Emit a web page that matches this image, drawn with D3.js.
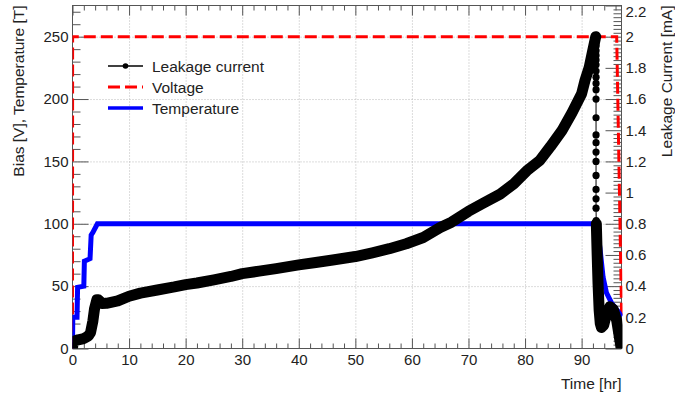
<!DOCTYPE html>
<html>
<head>
<meta charset="utf-8">
<script src="https://cdn.jsdelivr.net/npm/d3@7"></script>
<style>
  body { margin: 0; background: #fff; }
  svg { display: block; }
  text { font-family: "Liberation Sans", Arial, Helvetica, sans-serif; fill: #222; }
</style>
</head>
<body>
<svg id="chart" width="675" height="398"></svg>
<script>
// time [hr] vs leakage current [mA]
var leakRise = [
  [0, 0], [0.1, 0.04], [0.5, 0.05], [1, 0.056], [2, 0.064], [2.8, 0.08], [3.2, 0.104],
  [3.6, 0.176], [3.9, 0.256], [4.3, 0.312], [4.6, 0.312], [5.2, 0.288], [6, 0.29],
  [8, 0.305], [10, 0.335], [12, 0.355], [15, 0.375], [18, 0.395], [20, 0.41],
  [22, 0.42], [25, 0.44], [28, 0.462], [30, 0.48], [33, 0.496], [36, 0.512],
  [40, 0.536], [43, 0.552], [46, 0.568], [50, 0.59], [53, 0.614], [56, 0.64],
  [59, 0.672], [62, 0.712], [65, 0.776], [67, 0.81], [70, 0.88], [72.5, 0.93],
  [75.6, 0.99], [78, 1.056], [80.3, 1.14], [82.6, 1.206], [84.5, 1.296], [86.5, 1.396],
  [88.3, 1.512], [90, 1.634], [90.6, 1.72], [91.35, 1.805], [91.9, 1.9], [92.5, 2.0]
];
var leakDrop = [
  [92.55, 1.97], [92.55, 1.94], [92.55, 1.91], [92.55, 1.88], [92.55, 1.85], [92.55, 1.82],
  [92.55, 1.78], [92.55, 1.74], [92.55, 1.70], [92.55, 1.66], [92.55, 1.60], [92.55, 1.48],
  [92.55, 1.37], [92.55, 1.32], [92.55, 1.26], [92.55, 1.2], [92.55, 1.11], [92.55, 1.02],
  [92.55, 0.96], [92.55, 0.9], [92.58, 0.82]
];
var leakTail = [
  [92.6, 0.8], [92.75, 0.6], [92.9, 0.42], [93.1, 0.245], [93.3, 0.16], [93.5, 0.135],
  [93.9, 0.15], [94.4, 0.22], [95, 0.268], [95.6, 0.25], [96.2, 0.18], [96.75, 0.055],
  [97.03, 0]
];
// time [hr] vs temperature
var tempData = [
  [0, 0], [0.05, 25], [0.8, 25], [0.9, 49], [2, 50], [2.1, 70], [3.1, 72], [3.3, 91],
  [3.6, 93], [4.4, 100], [92.5, 100], [92.65, 99], [93.23, 81], [93.8, 57], [94.4, 44.5],
  [95.3, 36.5], [96.47, 29.5], [97.07, 25.5]
];
// time [hr] vs bias voltage [V]
var voltData = [[0, 0], [0.02, 250], [96.2, 250], [97.07, 27]];

var xTicks = [0, 10, 20, 30, 40, 50, 60, 70, 80, 90];
var yTicks = [0, 50, 100, 150, 200, 250];
var yRTicks = [0, 0.2, 0.4, 0.6, 0.8, 1, 1.2, 1.4, 1.6, 1.8, 2, 2.2];
var legendLabels = ["Leakage current", "Voltage", "Temperature"];

var fLeft = 72.5, fRight = 621.5, fTop = 5.5, fBottom = 348.5;

var x = d3.scaleLinear().domain([0, 97.05]).range([fLeft, fRight]);
var y = d3.scaleLinear().domain([0, 275]).range([fBottom, fTop]);
var yR = d3.scaleLinear().domain([0, 2.2]).range([fBottom, fTop]);

var svg = d3.select("#chart");

svg.append("clipPath").attr("id", "clip")
  .append("rect")
  .attr("x", fLeft).attr("y", fTop - 3)
  .attr("width", fRight - fLeft + 1).attr("height", fBottom - fTop + 3);

// grid
function styleGrid(g) {
  g.select(".domain").remove();
  g.selectAll("line")
    .attr("stroke", "#b8b8b8")
    .attr("stroke-dasharray", "1,2");
}
svg.append("g")
  .attr("transform", "translate(0," + fBottom + ")")
  .call(d3.axisBottom(x).tickValues(xTicks.slice(1)).tickSize(-(fBottom - fTop)).tickFormat(""))
  .call(styleGrid);
svg.append("g")
  .attr("transform", "translate(" + fLeft + ",0)")
  .call(d3.axisLeft(y).tickValues(yTicks.slice(1)).tickSize(-(fRight - fLeft)).tickFormat(""))
  .call(styleGrid);

// minor tick helpers
function minors(lo, hi, step, skip) {
  var out = [];
  for (var v = lo; v <= hi + 1e-9; v += step) {
    var r = Math.round(v * 1000) / 1000;
    if (Math.abs(r / skip - Math.round(r / skip)) > 1e-6) out.push(r);
  }
  return out;
}

function styleAxis(g) {
  g.select(".domain").remove();
  g.selectAll("line").attr("stroke", "#555");
  g.selectAll("text").style("font-size", "15px").attr("fill", "#222");
}

// bottom axis
svg.append("g")
  .attr("transform", "translate(0," + fBottom + ")")
  .call(d3.axisBottom(x).tickValues(xTicks).tickSize(-10).tickPadding(6).tickFormat(d3.format("d")))
  .call(styleAxis);
svg.append("g")
  .attr("transform", "translate(0," + fBottom + ")")
  .call(d3.axisBottom(x).tickValues(minors(0, 96, 2, 10)).tickSize(-5).tickFormat(""))
  .call(styleAxis);
// top axis (ticks only)
svg.append("g")
  .attr("transform", "translate(0," + fTop + ")")
  .call(d3.axisTop(x).tickValues(xTicks).tickSize(-10).tickFormat(""))
  .call(styleAxis);
svg.append("g")
  .attr("transform", "translate(0," + fTop + ")")
  .call(d3.axisTop(x).tickValues(minors(0, 96, 2, 10)).tickSize(-5).tickFormat(""))
  .call(styleAxis);

// left axis
svg.append("g")
  .attr("transform", "translate(" + fLeft + ",0)")
  .call(d3.axisLeft(y).tickValues(yTicks).tickSize(-16).tickPadding(4).tickFormat(d3.format("d")))
  .call(styleAxis);
svg.append("g")
  .attr("transform", "translate(" + fLeft + ",0)")
  .call(d3.axisLeft(y).tickValues(minors(0, 270, 10, 50)).tickSize(-8).tickFormat(""))
  .call(styleAxis);

// right axis
var rAxis = svg.append("g")
  .attr("transform", "translate(" + fRight + ",0)")
  .call(d3.axisRight(yR).tickValues(yRTicks).tickSize(-16).tickPadding(4)
    .tickFormat(function(d) { return String(+d.toFixed(1)); }))
  .call(styleAxis);
// keep the top label inside the picture
rAxis.selectAll("text").filter(function(d) { return d === 2.2; }).attr("dy", "0.75em");
svg.append("g")
  .attr("transform", "translate(" + fRight + ",0)")
  .call(d3.axisRight(yR).tickValues(minors(0, 2.2, 0.025, 0.2)).tickSize(-8).tickFormat(""))
  .call(styleAxis);

// frame
svg.append("rect")
  .attr("x", fLeft).attr("y", fTop)
  .attr("width", fRight - fLeft).attr("height", fBottom - fTop)
  .attr("fill", "none").attr("stroke", "#555");

// data
var plot = svg.append("g").attr("clip-path", "url(#clip)");

var lineL = d3.line().x(function(d) { return x(d[0]); }).y(function(d) { return y(d[1]); });
var lineR = d3.line().x(function(d) { return x(d[0]); }).y(function(d) { return yR(d[1]); });

plot.append("path")
  .attr("d", lineL(voltData))
  .attr("fill", "none")
  .attr("stroke", "#ff0000")
  .attr("stroke-width", 3)
  .attr("stroke-dasharray", "12,5");

plot.append("path")
  .attr("d", lineL(tempData))
  .attr("fill", "none")
  .attr("stroke", "#0000ff")
  .attr("stroke-width", 5);

// dense marker band
[leakRise, leakTail].forEach(function(s) {
  plot.append("path")
    .attr("d", lineR(s))
    .attr("fill", "none")
    .attr("stroke", "#000")
    .attr("stroke-width", 11)
    .attr("stroke-linejoin", "round")
    .attr("stroke-linecap", "round");
});
plot.append("path")
  .attr("d", lineR(leakRise.concat(leakDrop, leakTail)))
  .attr("fill", "none")
  .attr("stroke", "#000")
  .attr("stroke-width", 1);
plot.selectAll("circle.drop")
  .data(leakDrop)
  .enter().append("circle")
  .attr("class", "drop")
  .attr("cx", function(d) { return x(d[0]); })
  .attr("cy", function(d) { return yR(d[1]); })
  .attr("r", 3.6)
  .attr("fill", "#000");

// axis titles
svg.append("text")
  .attr("transform", "translate(24," + fTop + ")rotate(-90)")
  .style("text-anchor", "end")
  .style("font-size", "15.5px")
  .text("Bias [V], Temperature [T]");
svg.append("text")
  .attr("transform", "translate(672," + fTop + ")rotate(-90)")
  .style("text-anchor", "end")
  .style("font-size", "15.5px")
  .text("Leakage Current [mA]");
svg.append("text")
  .attr("x", fRight)
  .attr("y", 389)
  .style("text-anchor", "end")
  .style("font-size", "15.5px")
  .text("Time [hr]");

// legend
var legend = svg.append("g").attr("transform", "translate(108,66)");
var rowH = 21;
legendLabels.forEach(function(label, i) {
  var row = legend.append("g").attr("transform", "translate(0," + i * rowH + ")");
  var ln = row.append("line").attr("x1", 0).attr("x2", 35).attr("y1", 0).attr("y2", 0);
  if (i === 0) {
    ln.attr("stroke", "#000").attr("stroke-width", 1.5);
    row.append("circle").attr("cx", 17.5).attr("cy", 0).attr("r", 2.8).attr("fill", "#000");
  } else if (i === 1) {
    ln.attr("stroke", "#ff0000").attr("stroke-width", 3).attr("stroke-dasharray", "12,5");
  } else {
    ln.attr("stroke", "#0000ff").attr("stroke-width", 3.5);
  }
  row.append("text")
    .attr("x", 44)
    .attr("dy", "0.36em")
    .style("font-size", "15.5px")
    .text(label);
});
</script>
</body>
</html>
